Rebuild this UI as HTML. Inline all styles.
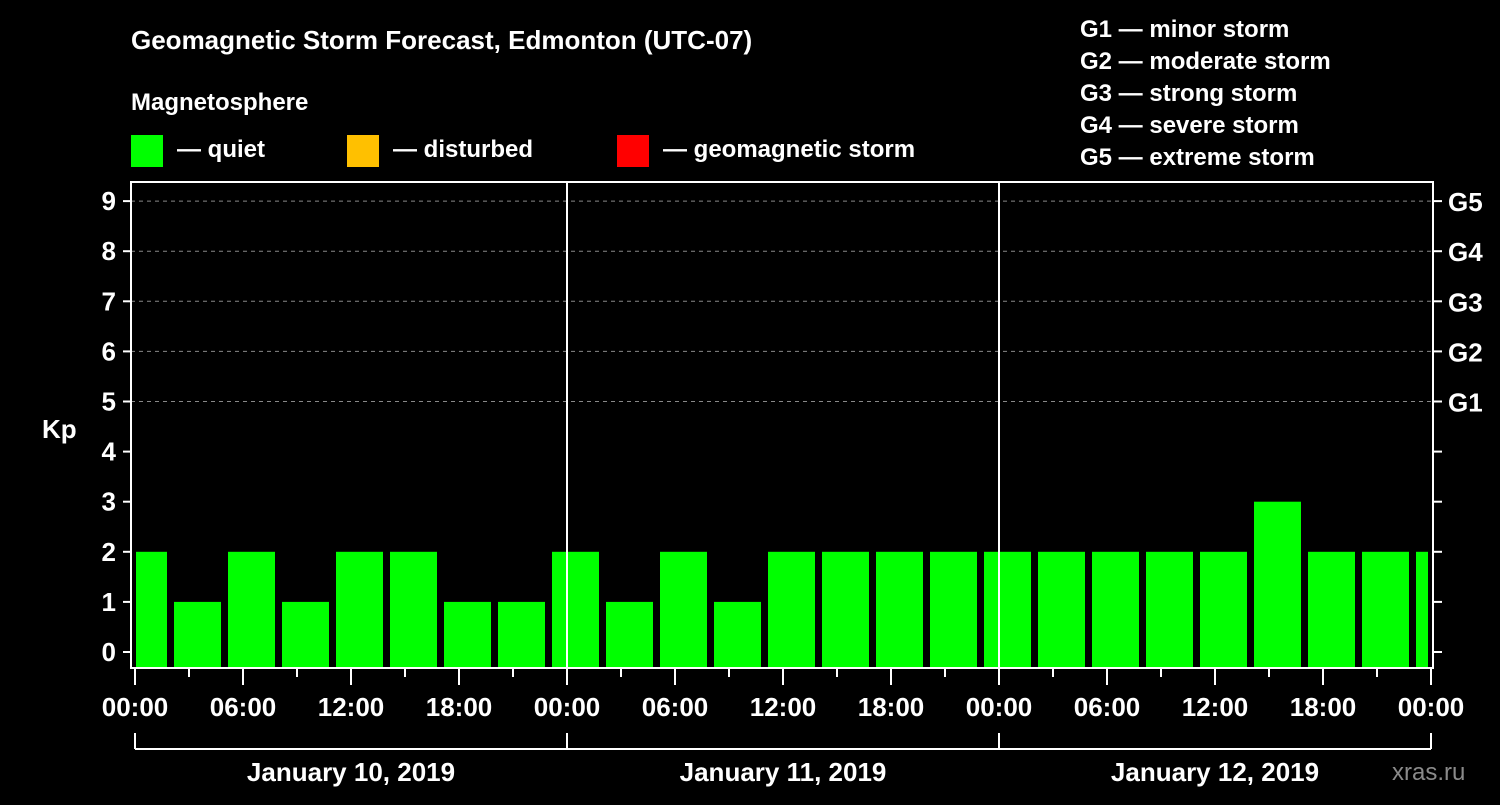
<!DOCTYPE html>
<html><head><meta charset="utf-8"><style>
body{margin:0;background:#000;width:1500px;height:800px;overflow:hidden}
svg text{font-family:"Liberation Sans",sans-serif;font-weight:bold;fill:#fff}
</style></head><body>
<svg id="chart" width="1500" height="800" xmlns="http://www.w3.org/2000/svg">
<text x="131" y="49" font-size="26">Geomagnetic Storm Forecast, Edmonton (UTC-07)</text>
<text x="131" y="110" font-size="24">Magnetosphere</text>
<g>
<rect x="131" y="135" width="32" height="32" fill="#00ff00"/>
<text x="177" y="157" font-size="24">— quiet</text>
<rect x="347" y="135" width="32" height="32" fill="#ffc000"/>
<text x="393" y="157" font-size="24">— disturbed</text>
<rect x="617" y="135" width="32" height="32" fill="#ff0000"/>
<text x="663" y="157" font-size="24">— geomagnetic storm</text>
</g>
<g font-size="24">
<text x="1080" y="37">G1 — minor storm</text>
<text x="1080" y="69">G2 — moderate storm</text>
<text x="1080" y="101">G3 — strong storm</text>
<text x="1080" y="133">G4 — severe storm</text>
<text x="1080" y="165">G5 — extreme storm</text>
</g>
<text x="42" y="438" font-size="26">Kp</text>
<text x="1392" y="780" font-size="24" fill="#888" style="fill:#8a8a8a;font-weight:normal">xras.ru</text>
<g id="grid"></g><g id="bars"></g><g id="axes"></g>
</svg>
<script>
const kpValues=[2,1,2,1,2,2,1,1,2,1,2,1,2,2,2,2,2,2,2,2,2,3,2,2,2];
const yTicks=[0,1,2,3,4,5,6,7,8,9];
const gLabels=["G1","G2","G3","G4","G5"];
const hourLabels=["00:00","06:00","12:00","18:00"];
const dayLabels=["January 10, 2019","January 11, 2019","January 12, 2019"];
const NS="http://www.w3.org/2000/svg";
const x0=135,pxH=18,totalH=72;
const X=h=>x0+h*pxH;
const Y=v=>652-v*50.1;
const L=131,R=1433,T=182,B=668;
function mk(t,a,p){const e=document.createElementNS(NS,t);for(const k in a)e.setAttribute(k,a[k]);(p||document.getElementById('axes')).appendChild(e);return e;}
const grid=document.getElementById('grid'),bars=document.getElementById('bars');
yTicks.forEach(v=>{if(v>=5){const g=mk('line',{x1:L,x2:R,y1:Y(v),y2:Y(v),stroke:'#888','stroke-dasharray':'4,4','stroke-width':1},grid);

}});
kpValues.forEach((v,i)=>{let s=-1+3*i,e=s+3;let xs=Math.max(X(s)+3,L+5),xe=Math.min(X(e)-4,R-5);
const c=v>=5?'#ff0000':(v>=4?'#ffc000':'#00ff00');
const r=mk('rect',{x:xs,y:Y(v),width:xe-xs,height:B-1-Y(v),fill:c},bars);

});
const f=mk('rect',{x:L,y:T,width:R-L,height:B-T,fill:'none',stroke:'#fff','stroke-width':2});


[1,2].forEach(d=>{const l=mk('line',{x1:X(24*d),x2:X(24*d),y1:T,y2:B,stroke:'#fff','stroke-width':2});

});
yTicks.forEach(v=>{mk('line',{x1:123,x2:L,y1:Y(v),y2:Y(v),stroke:'#fff','stroke-width':2});
mk('line',{x1:R,x2:R+9,y1:Y(v),y2:Y(v),stroke:'#fff','stroke-width':2});
const t=mk('text',{x:116,y:Y(v)+9,'font-size':26,'text-anchor':'end'});t.textContent=v;


if(v>=5){const g=mk('text',{x:1448,y:Y(v)+10,'font-size':26});g.textContent=gLabels[v-5];

}});
for(let h=0;h<=totalH;h+=3){const maj=h%6==0;mk('line',{x1:X(h),x2:X(h),y1:B,y2:B+(maj?17:9),stroke:'#fff','stroke-width':2});
if(maj){const t=mk('text',{x:X(h),y:716,'font-size':26,'text-anchor':'middle'});t.textContent=hourLabels[(h/6)%4];

}}
mk('line',{x1:X(0),x2:X(totalH),y1:749,y2:749,stroke:'#fff','stroke-width':2});
for(let d=0;d<=3;d++)mk('line',{x1:X(24*d),x2:X(24*d),y1:733,y2:749,stroke:'#fff','stroke-width':2});
dayLabels.forEach((s,d)=>{const t=mk('text',{x:X(24*d+12),y:781,'font-size':26,'text-anchor':'middle'});t.textContent=s;

});
</script>
</body></html>
